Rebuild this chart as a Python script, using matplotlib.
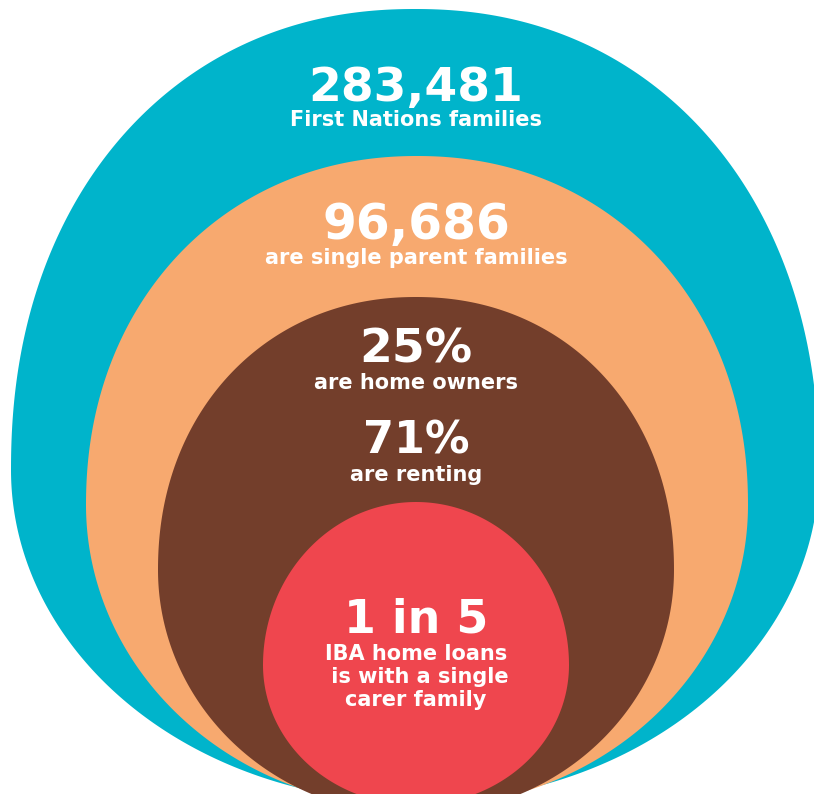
import numpy as np
import matplotlib
matplotlib.use("Agg")
import matplotlib.pyplot as plt
from matplotlib.patches import Polygon

# headline figures and their captions, outermost ring first
headlines = ["283,481", "96,686", "25%", "71%", "1 in 5"]
captions = ["First Nations families",
            "are single parent families",
            "are home owners",
            "are renting",
            "IBA home loans\n is with a single\ncarer family"]
colours = ["#00b4cb", "#f7a96f", "#733e2b", "#ef464e"]

# egg shapes: centre x, top y, widest y, half width, bottom y,
# upper and lower superellipse exponents
rings = [
    (415, 9, 470, 404, 802, 2.15, 2.0),
    (417, 156, 505, 331, 808, 2.1, 2.0),
    (416, 297, 570, 258, 815, 2.1, 2.0),
    (416, 502, 665, 153, 805, 2.0, 2.0),
]


def egg(cx, top, mid, hw, bottom, nu=2.0, nl=2.0, k=240):
    # two superellipse halves joined at the widest row
    t = np.linspace(0, np.pi, k)
    c, s = np.cos(t), np.sin(t)
    xu = cx + hw * np.sign(c) * np.abs(c) ** (2 / nu)
    yu = mid - (mid - top) * np.abs(s) ** (2 / nu)
    t2 = np.linspace(np.pi, 2 * np.pi, k)
    c, s = np.cos(t2), np.sin(t2)
    xl = cx + hw * np.sign(c) * np.abs(c) ** (2 / nl)
    yl = mid + (bottom - mid) * np.abs(s) ** (2 / nl)
    return np.column_stack([np.r_[xu, xl], np.r_[yu, yl]])


fig = plt.figure(figsize=(8.14, 7.94), dpi=100)
ax = fig.add_axes([0, 0, 1, 1])
ax.set_xlim(0, 814)
ax.set_ylim(794, 0)
ax.axis("off")

for r, col in zip(rings, colours):
    ax.add_patch(Polygon(egg(*r), closed=True, facecolor=col, edgecolor="none"))

big_y = [88, 225, 350, 441, 620]
small_y = [120, 258, 383, 475, 654]
big_size = [34, 35, 34, 32, 33]
for h, c, yb, ys, fs in zip(headlines, captions, big_y, small_y, big_size):
    ax.text(416, yb, h, color="white", fontsize=fs, fontweight="bold",
            ha="center", va="center", family="DejaVu Sans")
    for i, line in enumerate(c.split("\n")):
        ax.text(416, ys + 23 * i, line, color="white", fontsize=15,
                fontweight="bold", ha="center", va="center",
                family="DejaVu Sans")

fig.savefig("out.png", dpi=100)
